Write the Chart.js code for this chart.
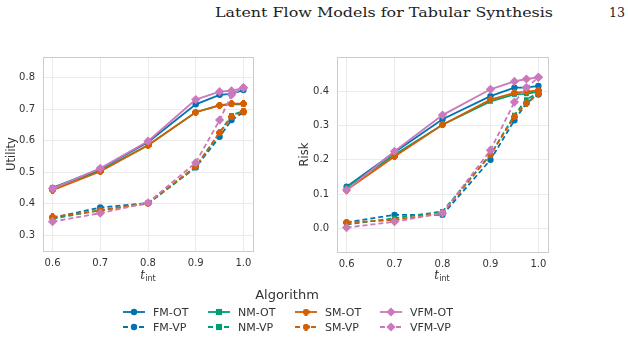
<!DOCTYPE html>
<html>
<head>
<meta charset="utf-8">
<script src="https://cdn.jsdelivr.net/npm/chart.js@4.4.1/dist/chart.umd.min.js"></script>
<style>
  body { margin: 0; width: 628px; height: 338px; background: #fff; position: relative; overflow: hidden; font-family: 'DejaVu Sans', sans-serif; color: #333; }
  .abs { position: absolute; }
  .header { font-family: 'DejaVu Serif', serif; font-size: 12.5px; color: #222; top: 5px; left: 215px; white-space: nowrap; transform-origin: 0 0; }
  .page { font-family: 'DejaVu Serif', serif; font-size: 12.5px; color: #222; top: 5px; left: 609px; }
  .xt { font-size: 12px; color: #333; white-space: nowrap; transform: translateX(-50%); }
  .xt i { font-family: 'DejaVu Serif', serif; }
  .xt sub { font-size: 8px; vertical-align: -2px; }
  .leg-title { font-size: 13px; color: #333; left: 287px; top: 287px; transform: translateX(-50%); }
  .leg-item { font-size: 11px; color: #333; display: flex; align-items: center; white-space: nowrap; }
  .leg-item canvas { margin-right: 8px; }
</style>
</head>
<body>
<div id="header" class="abs header">Latent Flow Models for Tabular Synthesis</div>
<div class="abs page">13</div>

<canvas id="util" class="abs" style="left:0;top:43px;" width="260" height="228"></canvas>
<canvas id="risk" class="abs" style="left:290px;top:43px;" width="270" height="229"></canvas>

<div class="abs xt" style="left:148px;top:268px;"><i>t</i><sub>int</sub></div>
<div class="abs xt" style="left:442px;top:268px;"><i>t</i><sub>int</sub></div>

<div class="abs leg-title">Algorithm</div>
<div id="legend"></div>

<script>
// ---- data ----
const tInt = [0.6, 0.7, 0.8, 0.9, 0.95, 0.975, 1.0];
const algorithms = ['FM-OT', 'FM-VP', 'NM-OT', 'NM-VP', 'SM-OT', 'SM-VP', 'VFM-OT', 'VFM-VP'];

const utilFmOt  = [0.450, 0.510, 0.595, 0.715, 0.745, 0.748, 0.760];
const utilFmVp  = [0.355, 0.388, 0.402, 0.515, 0.612, 0.665, 0.690];
const utilNmOt  = [0.450, 0.505, 0.585, 0.690, 0.712, 0.715, 0.715];
const utilNmVp  = [0.352, 0.380, 0.400, 0.515, 0.625, 0.680, 0.695];
const utilSmOt  = [0.443, 0.502, 0.585, 0.690, 0.712, 0.717, 0.717];
const utilSmVp  = [0.358, 0.378, 0.402, 0.518, 0.625, 0.675, 0.692];
const utilVfmOt = [0.448, 0.512, 0.598, 0.730, 0.755, 0.758, 0.767];
const utilVfmVp = [0.343, 0.370, 0.403, 0.530, 0.665, 0.745, 0.768];

const riskFmOt  = [0.122, 0.222, 0.318, 0.385, 0.410, 0.410, 0.415];
const riskFmVp  = [0.018, 0.040, 0.040, 0.200, 0.315, 0.365, 0.390];
const riskNmOt  = [0.120, 0.215, 0.302, 0.370, 0.390, 0.392, 0.398];
const riskNmVp  = [0.012, 0.030, 0.050, 0.215, 0.330, 0.375, 0.395];
const riskSmOt  = [0.112, 0.210, 0.302, 0.375, 0.395, 0.398, 0.402];
const riskSmVp  = [0.018, 0.025, 0.045, 0.215, 0.325, 0.365, 0.392];
const riskVfmOt = [0.112, 0.225, 0.330, 0.405, 0.428, 0.435, 0.440];
const riskVfmVp = [0.003, 0.020, 0.045, 0.228, 0.368, 0.410, 0.440];

const xTicks = [0.6, 0.7, 0.8, 0.9, 1.0];
const utilTicks = [0.3, 0.4, 0.5, 0.6, 0.7, 0.8];
const riskTicks = [0.0, 0.1, 0.2, 0.3, 0.4];

// stretch the running header to the width of the LaTeX original
const hdr = document.getElementById('header');
hdr.style.transform = 'scaleX(' + (338 / hdr.getBoundingClientRect().width) + ')';

// ---- styles ----
const COLORS = { FM: '#0173b2', NM: '#029e73', SM: '#d55e00', VFM: '#cc78bc' };
const ORDER = { FM: 3, NM: 2, SM: 1, VFM: 0 };

// filled plus marker for SM
function plusMarker(color, size) {
    const c = document.createElement('canvas');
    c.width = size; c.height = size;
    const g = c.getContext('2d');
    g.fillStyle = color;
    const a = Math.round(size * 0.28);
    g.fillRect(a, 0, size - 2 * a, size);
    g.fillRect(0, a, size, size - 2 * a);
    g.fillRect(1, 1, size - 2, size - 2);
    return c;
}
const smMarker = plusMarker(COLORS.SM, 7);

const MARKERS = { FM: 'circle', NM: 'rect', SM: smMarker, VFM: 'rectRot' };
const RADIUS = { FM: 3.2, NM: 3.4, SM: 3.5, VFM: 4.6 };

function makeDatasets(series) {
    return algorithms.map((name, i) => {
        const fam = name.split('-')[0];
        const vp = name.endsWith('VP');
        return {
            label: name,
            data: tInt.map((x, j) => ({ x: x, y: series[i][j] })),
            borderColor: COLORS[fam],
            backgroundColor: COLORS[fam],
            borderWidth: 1.8,
            borderDash: vp ? [5, 3] : [],
            pointStyle: MARKERS[fam],
            pointRadius: RADIUS[fam],
            pointBorderWidth: 0,
            tension: 0,
            order: ORDER[fam],
        };
    });
}

function makeOptions(yMin, yMax, yTicks, yLabel, yWidth, padRight, titlePad) {
    return {
        responsive: false,
        animation: false,
        layout: { padding: { top: 5, right: padRight, left: 0, bottom: 0 } },
        plugins: { legend: { display: false }, tooltip: { enabled: false } },
        scales: {
            x: {
                type: 'linear', min: 0.58, max: 1.02,
                afterBuildTicks: s => { s.ticks = xTicks.map(v => ({ value: v })); },
                afterFit: s => { s.height = 20; },
                ticks: { color: '#333', font: { family: 'DejaVu Sans', size: 10 }, padding: 6,
                    callback: v => v.toFixed(1) },
                grid: { color: '#ebebeb', lineWidth: 1, drawTicks: false },
                border: { color: '#cccccc', width: 1 },
            },
            y: {
                type: 'linear', min: yMin, max: yMax,
                afterBuildTicks: s => { s.ticks = yTicks.map(v => ({ value: v })); },
                afterFit: s => { s.width = yWidth; },
                ticks: { color: '#333', font: { family: 'DejaVu Sans', size: 10 }, padding: 8,
                    callback: v => v.toFixed(1) },
                grid: { color: '#ebebeb', lineWidth: 1, drawTicks: false },
                border: { color: '#cccccc', width: 1 },
                title: { display: true, text: yLabel, color: '#333', font: { family: 'DejaVu Sans', size: 11.5 }, padding: { top: titlePad, bottom: 0 } },
            },
        },
    };
}

// frame on top/right like the matplotlib spines
const frame = {
    id: 'frame',
    afterDraw(chart) {
        const { ctx, chartArea: a } = chart;
        ctx.save();
        ctx.strokeStyle = '#cccccc';
        ctx.lineWidth = 1;
        ctx.strokeRect(Math.round(a.left) + 0.5, Math.round(a.top) + 0.5, Math.round(a.right - a.left), Math.round(a.bottom - a.top));
        ctx.restore();
    }
};

new Chart(document.getElementById('util'), {
    type: 'line',
    data: { datasets: makeDatasets([utilFmOt, utilFmVp, utilNmOt, utilNmVp, utilSmOt, utilSmVp, utilVfmOt, utilVfmVp]) },
    options: makeOptions(0.25, 0.865, utilTicks, 'Utility', 43, 7, 5),
    plugins: [frame],
});

new Chart(document.getElementById('risk'), {
    type: 'line',
    data: { datasets: makeDatasets([riskFmOt, riskFmVp, riskNmOt, riskNmVp, riskSmOt, riskSmVp, riskVfmOt, riskVfmVp]) },
    options: makeOptions(-0.068, 0.499, riskTicks, 'Risk', 47, 12, 8),
    plugins: [frame],
});

// ---- legend ----
const legendCols = [123, 208, 295, 380];
const legendRows = [312, 327];
const legend = document.getElementById('legend');
['FM', 'NM', 'SM', 'VFM'].forEach((fam, c) => {
    ['OT', 'VP'].forEach((kind, r) => {
        const item = document.createElement('div');
        item.className = 'abs leg-item';
        item.style.left = legendCols[c] + 'px';
        item.style.top = (legendRows[r] - 7) + 'px';
        item.style.height = '14px';
        const cv = document.createElement('canvas');
        cv.width = 22; cv.height = 12;
        const g = cv.getContext('2d');
        g.strokeStyle = COLORS[fam];
        g.fillStyle = COLORS[fam];
        g.lineWidth = 1.8;
        g.setLineDash(kind === 'VP' ? [5, 3] : []);
        g.beginPath(); g.moveTo(0, 6); g.lineTo(22, 6); g.stroke();
        g.setLineDash([]);
        const rad = RADIUS[fam];
        if (fam === 'FM') { g.beginPath(); g.arc(11, 6, rad, 0, Math.PI * 2); g.fill(); }
        else if (fam === 'NM') { g.fillRect(11 - rad * 0.75 - 0.5, 6 - rad * 0.75 - 0.5, rad * 1.5 + 1, rad * 1.5 + 1); }
        else if (fam === 'SM') { g.drawImage(smMarker, 7.5, 2.5); }
        else { g.beginPath(); g.moveTo(11, 6 - rad); g.lineTo(11 + rad, 6); g.lineTo(11, 6 + rad); g.lineTo(11 - rad, 6); g.closePath(); g.fill(); }
        item.appendChild(cv);
        const t = document.createElement('span');
        t.textContent = fam + '-' + kind;
        item.appendChild(t);
        legend.appendChild(item);
    });
});
</script>
</body>
</html>
